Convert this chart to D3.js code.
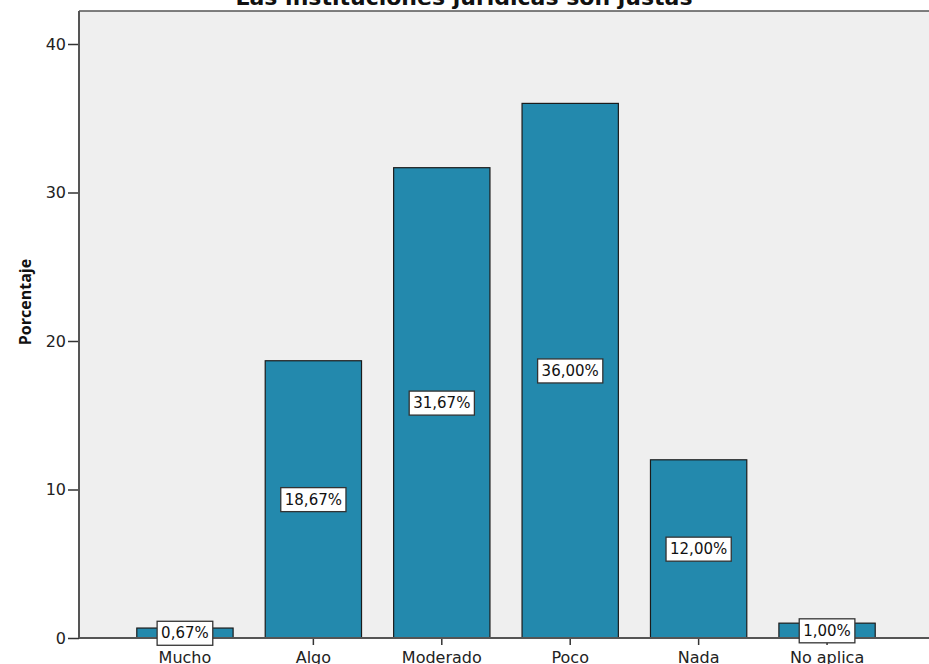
<!DOCTYPE html>
<html>
<head>
<meta charset="utf-8">
<script src="https://cdnjs.cloudflare.com/ajax/libs/d3/7.8.5/d3.min.js"></script>
<style>
  body { margin: 0; background: #fff; }
  svg { display: block; font-family: "DejaVu Sans", sans-serif; }
</style>
</head>
<body>
<svg width="929" height="664"></svg>
<script>
const categories = ['Mucho', 'Algo', 'Moderado', 'Poco', 'Nada', 'No aplica'];
const percentages = [0.67, 18.67, 31.67, 36.00, 12.00, 1.00];
const labels = ['0,67%', '18,67%', '31,67%', '36,00%', '12,00%', '1,00%'];
const yTicks = [0, 10, 20, 30, 40];

const svg = d3.select('svg');
const plotLeft = 79, plotTop = 11, plotRight = 929, plotBottom = 638;

const y = d3.scaleLinear()
    .domain([0, 40])
    .range([plotBottom, 44]);

const x = d3.scaleBand()
    .domain(categories)
    .range([plotLeft, 933])
    .paddingInner(0.25)
    .paddingOuter(0.45);

// plot background
svg.append('rect')
    .attr('x', plotLeft).attr('y', plotTop)
    .attr('width', plotRight - plotLeft).attr('height', plotBottom - plotTop)
    .attr('fill', '#efefef');

svg.append('line')
    .attr('x1', plotLeft).attr('x2', plotRight)
    .attr('y1', plotTop).attr('y2', plotTop)
    .attr('stroke', '#555').attr('stroke-width', 1.5);

// title (cut off at top, like the source)
svg.append('text')
    .attr('x', 464).attr('y', 5)
    .attr('text-anchor', 'middle')
    .attr('font-size', 22).attr('font-weight', 'bold')
    .attr('fill', '#111')
    .text('Las instituciones jurídicas son justas');

// bars
svg.selectAll('rect.bar')
    .data(percentages)
    .enter()
    .append('rect')
    .attr('class', 'bar')
    .attr('x', (d, i) => x(categories[i]))
    .attr('y', d => y(d))
    .attr('width', x.bandwidth())
    .attr('height', d => plotBottom - y(d))
    .attr('fill', '#2389ad')
    .attr('stroke', '#1b1b1b')
    .attr('stroke-width', 1.2);

// y axis
const yAxis = svg.append('g')
    .attr('transform', `translate(${plotLeft},0)`)
    .call(d3.axisLeft(y).tickValues(yTicks).tickSize(11).tickPadding(2));
yAxis.select('.domain').remove();
yAxis.selectAll('line').attr('stroke', '#333').attr('stroke-width', 1.5);
yAxis.selectAll('text').attr('font-size', 16).attr('fill', '#222')
    .attr('font-family', '"DejaVu Sans", sans-serif');

svg.append('line')
    .attr('x1', plotLeft).attr('x2', plotLeft)
    .attr('y1', plotTop).attr('y2', plotBottom)
    .attr('stroke', '#555').attr('stroke-width', 2);

// x axis
const xAxis = svg.append('g')
    .attr('transform', `translate(0,${plotBottom})`)
    .call(d3.axisBottom(x).tickSize(7).tickPadding(7));
xAxis.select('.domain').remove();
xAxis.selectAll('line').attr('stroke', '#333').attr('stroke-width', 1.5);
xAxis.selectAll('text').attr('font-size', 16).attr('fill', '#222')
    .attr('font-family', '"DejaVu Sans", sans-serif');

svg.append('line')
    .attr('x1', plotLeft).attr('x2', plotRight)
    .attr('y1', plotBottom).attr('y2', plotBottom)
    .attr('stroke', '#555').attr('stroke-width', 2);

// value labels
const lab = svg.selectAll('g.lab')
    .data(percentages)
    .enter()
    .append('g')
    .attr('class', 'lab')
    .attr('transform', (d, i) =>
        `translate(${x(categories[i]) + x.bandwidth() / 2},${(y(d) + y(0)) / 2})`);

lab.append('text')
    .attr('text-anchor', 'middle')
    .attr('dy', '0.35em')
    .attr('font-size', 15)
    .attr('fill', '#111')
    .text((d, i) => labels[i])
    .each(function () {
        const b = this.getBBox();
        d3.select(this.parentNode).insert('rect', 'text')
            .attr('x', b.x - 4).attr('y', b.y - 3)
            .attr('width', b.width + 8).attr('height', b.height + 6)
            .attr('fill', '#fff')
            .attr('stroke', '#333').attr('stroke-width', 1.3);
    });

// y label
svg.append('text')
    .attr('transform', 'translate(31,302) rotate(-90)')
    .attr('text-anchor', 'middle')
    .attr('font-family', '"Open Sans", sans-serif')
    .attr('font-size', 16).attr('font-weight', 'bold')
    .attr('fill', '#111')
    .text('Porcentaje');
</script>
</body>
</html>
